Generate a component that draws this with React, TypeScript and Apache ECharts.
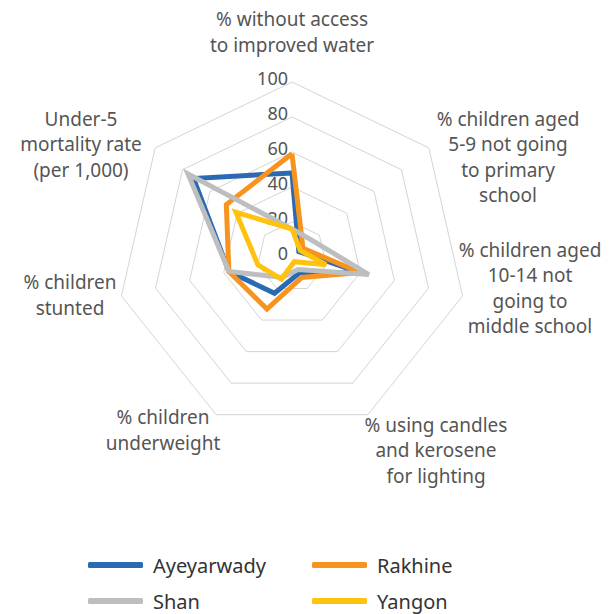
import React, { useEffect, useRef } from "react";
import * as echarts from "echarts";

// Categories in clockwise order starting at the top
const categories = [
  "% without access\nto improved water",
  "% children aged\n5-9 not going\nto primary\nschool",
  "% children aged\n10-14 not\ngoing to\nmiddle school",
  "% using candles\nand kerosene\nfor lighting",
  "% children\nunderweight",
  "% children\nstunted",
  "Under-5\nmortality rate\n(per 1,000)",
];

const seriesNames = ["Ayeyarwady", "Rakhine", "Shan", "Yangon"];
const ayeyarwady = [48, 5, 40, 10, 23, 37, 72];
const rakhine = [59, 8, 40, 13, 33, 37, 48];
const shan = [16, 15, 45, 8, 13, 37, 76];
const yangon = [16, 6, 20, 3, 14, 20, 41];
const tickLabels = ["0", "20", "40", "60", "80", "100"];

const colors = ["#2a6ab3", "#f7941d", "#bcbec0", "#ffc20e"];

// ECharts places indicators counter-clockwise: top first, then the rest reversed
const order = [0, 6, 5, 4, 3, 2, 1];
const reorder = (arr: any[]) => order.map((i) => arr[i]);

// label anchor positions (text centres) for each category, clockwise order
const namePos: [number, number][] = [
  [292, 32],
  [508, 157],
  [530, 288],
  [436, 450],
  [163, 430],
  [70, 295],
  [81, 144],
];

export default function App() {
  const ref = useRef<HTMLDivElement>(null);
  useEffect(() => {
    if (!ref.current) return;
    const chart = echarts.init(ref.current, null, { renderer: "svg" });
    const font = "Noto Sans";
    const values = [ayeyarwady, rakhine, shan, yangon];
    const legendBase = {
      orient: "vertical",
      top: 548,
      height: 80,
      itemWidth: 55,
      itemHeight: 6,
      itemGap: 12,
      icon: "roundRect",
      textStyle: {
        fontSize: 20,
        lineHeight: 24,
        color: "#333333",
        fontFamily: font,
        padding: [0, 0, 0, 5],
      },
    };
    const option: any = {
      animation: false,
      backgroundColor: "#ffffff",
      textStyle: { fontFamily: font },
      radar: {
        center: [292, 257],
        radius: 175,
        startAngle: 90,
        splitNumber: tickLabels.length - 1,
        shape: "polygon",
        indicator: reorder(categories).map((c, i) => ({
          name: c,
          max: 100,
          min: 0,
          ...(i === 0
            ? {
                axisLabel: {
                  show: true,
                  color: "#555555",
                  fontSize: 18,
                  fontFamily: font,
                  margin: 4,
                  verticalAlign: "bottom",
                  lineHeight: 8,
                  formatter: (v: number) => tickLabels[Math.round(v / 20)] ?? "",
                },
              }
            : {}),
        })),
        axisName: { show: false },
        axisLine: { show: false },
        axisTick: { show: false },
        axisLabel: { show: false },
        splitArea: { show: false },
        splitLine: { lineStyle: { color: "#d4d4d4", width: 1 } },
      },
      legend: [
        { ...legendBase, data: [seriesNames[0], seriesNames[2]], left: 83 },
        { ...legendBase, data: [seriesNames[1], seriesNames[3]], left: 307 },
      ],
      graphic: categories.map((c, i) => ({
        type: "text",
        x: namePos[i][0],
        y: namePos[i][1],
        silent: true,
        style: {
          text: c,
          align: "center",
          verticalAlign: "middle",
          fontSize: 19,
          lineHeight: 25.5,
          fill: "#555555",
          fontFamily: font,
        },
      })),
      series: seriesNames.map((n, k) => ({
        name: n,
        type: "radar",
        symbol: "none",
        color: colors[k],
        z: 2 + k,
        lineStyle: { width: 5, color: colors[k], join: "miter" },
        itemStyle: { color: colors[k] },
        data: [{ name: n, value: reorder(values[k]) }],
      })),
    };
    chart.setOption(option);
    return () => chart.dispose();
  }, []);
  return (
    <div
      ref={ref}
      style={{ position: "fixed", left: 0, top: 0, width: 613, height: 614 }}
    />
  );
}
